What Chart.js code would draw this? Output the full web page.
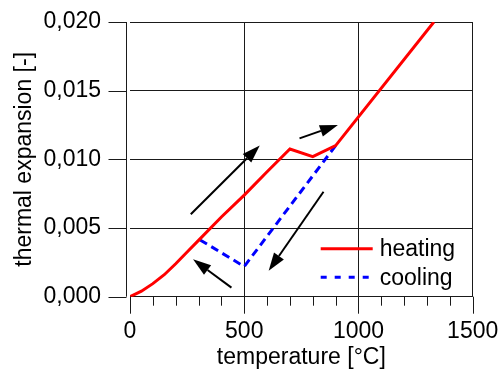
<!DOCTYPE html>
<html>
<head>
<meta charset="utf-8">
<script src="https://cdn.jsdelivr.net/npm/chart.js@4"></script>
<style>
  html, body { margin: 0; padding: 0; background: #fff; }
</style>
</head>
<body>
<canvas id="chart" width="499" height="377"></canvas>
<script>
// values
const heatingT = [0, 50, 100, 150, 200, 250, 300, 400, 500, 600, 700, 800, 900, 1330];
const heatingEps = [0, 0.0004, 0.00095, 0.0016, 0.0024, 0.00325, 0.0041, 0.0058, 0.0074, 0.0091, 0.01075, 0.0102, 0.011, 0.020];
const coolingT = [900, 500, 300];
const coolingEps = [0.011, 0.0022, 0.0042];
const xTicks = [0, 500, 1000, 1500];
const xMinorStep = 100;
const yTicks = [0, 0.005, 0.010, 0.015, 0.020];
// arrows in data units: [fromT, fromEps, toT, toEps]
const arrows = [
    [266, 0.0060, 568, 0.0110],
    [742, 0.01153, 910, 0.0125],
    [847, 0.00764, 607, 0.00189],
    [444, 0.00066, 276, 0.00272]
];

const font = "'Liberation Sans', Arial, sans-serif";
const ink = "#1a1a1a";
const clear = "rgba(0,0,0,0)";

const toPoints = (xs, ys) => xs.map((x, i) => ({x: x, y: ys[i]}));

const extras = {
    id: 'extras',
    afterDraw(chart) {
        const ctx = chart.ctx;
        const sx = chart.scales.x, sy = chart.scales.y;
        const a = chart.chartArea;
        ctx.save();

        // detached y axis line with outside ticks
        ctx.strokeStyle = ink;
        ctx.lineWidth = 1;
        const ax = Math.round(a.left) - 4 + 0.5;
        ctx.beginPath();
        ctx.moveTo(ax, a.top);
        ctx.lineTo(ax, a.bottom);
        yTicks.forEach(v => {
            const y = Math.round(sy.getPixelForValue(v)) + 0.5;
            ctx.moveTo(ax - 18, y);
            ctx.lineTo(ax, y);
        });
        // x ticks, major and minor, hanging below
        for (let t = 0; t <= 1500; t += xMinorStep) {
            const x = Math.round(sx.getPixelForValue(t)) + 0.5;
            const len = xTicks.includes(t) ? 17 : 9;
            ctx.moveTo(x, a.bottom);
            ctx.lineTo(x, a.bottom + len);
        }
        ctx.stroke();

        // arrows
        ctx.strokeStyle = "#000";
        ctx.fillStyle = "#000";
        ctx.lineWidth = 2;
        arrows.forEach(([t0, e0, t1, e1]) => {
            const x0 = sx.getPixelForValue(t0), y0 = sy.getPixelForValue(e0);
            const x1 = sx.getPixelForValue(t1), y1 = sy.getPixelForValue(e1);
            const ang = Math.atan2(y1 - y0, x1 - x0);
            const hl = 18, hw = 6;
            const bx = x1 - hl * Math.cos(ang), by = y1 - hl * Math.sin(ang);
            ctx.beginPath();
            ctx.moveTo(x0, y0);
            ctx.lineTo(bx, by);
            ctx.stroke();
            ctx.beginPath();
            ctx.moveTo(x1, y1);
            ctx.lineTo(bx + hw * Math.sin(ang), by - hw * Math.cos(ang));
            ctx.lineTo(bx - hw * Math.sin(ang), by + hw * Math.cos(ang));
            ctx.closePath();
            ctx.fill();
        });

        // legend inside the plot, lower right
        ctx.font = "23px " + font;
        ctx.textBaseline = "middle";
        ctx.textAlign = "left";
        const rows = [a.bottom - 48, a.bottom - 19.5];
        chart.data.datasets.forEach((ds, i) => {
            const y = rows[i];
            ctx.strokeStyle = ds.borderColor;
            ctx.lineWidth = 3;
            ctx.setLineDash(ds.borderDash ? [6, 8] : []);
            ctx.beginPath();
            ctx.moveTo(a.right - 152, y);
            ctx.lineTo(a.right - 100, y);
            ctx.stroke();
            ctx.setLineDash([]);
            ctx.fillStyle = "#000";
            ctx.fillText(ds.label, a.right - 93, y + 1);
        });
        ctx.restore();
    }
};

new Chart(document.getElementById("chart"), {
    type: 'scatter',
    data: {
        datasets: [{
            label: 'heating',
            data: toPoints(heatingT, heatingEps),
            showLine: true,
            borderColor: "#ff0000",
            borderWidth: 3,
            pointRadius: 0,
            tension: 0
        }, {
            label: 'cooling',
            data: toPoints(coolingT, coolingEps),
            showLine: true,
            borderColor: "#0000ff",
            borderWidth: 3,
            borderDash: [8, 5],
            pointRadius: 0,
            tension: 0
        }]
    },
    options: {
        responsive: false,
        animation: false,
        devicePixelRatio: 1,
        layout: {
            padding: {left: 0, top: 22, right: 26.3, bottom: 0}
        },
        plugins: {
            legend: {display: false},
            tooltip: {enabled: false}
        },
        scales: {
            x: {
                type: 'linear',
                min: 0,
                max: 1500,
                afterBuildTicks: s => { s.ticks = xTicks.map(v => ({value: v})); },
                afterFit: s => { s.height = 80.3; },
                border: {display: false},
                grid: {
                    color: c => c.tick && c.tick.value === 0 ? clear : ink,
                    lineWidth: 1,
                    drawTicks: true,
                    tickLength: 21,
                    tickColor: clear
                },
                ticks: {
                    color: "#000",
                    font: {family: font, size: 23},
                    padding: 0,
                    maxRotation: 0,
                    callback: v => String(v)
                },
                title: {
                    display: true,
                    text: 'temperature [°C]',
                    color: "#000",
                    font: {family: font, size: 23},
                    padding: {top: 0, bottom: 6}
                }
            },
            y: {
                type: 'linear',
                min: 0,
                max: 0.02,
                afterBuildTicks: s => { s.ticks = yTicks.map(v => ({value: v})); },
                afterFit: s => { s.width = 130; },
                border: {display: false},
                grid: {
                    color: ink,
                    lineWidth: 1,
                    drawTicks: true,
                    tickLength: 29,
                    tickColor: clear
                },
                ticks: {
                    color: "#000",
                    font: {family: font, size: 23},
                    padding: 0,
                    callback: v => v.toFixed(3).replace('.', ',')
                },
                title: {
                    display: true,
                    text: 'thermal expansion [-]',
                    color: "#000",
                    font: {family: font, size: 23},
                    padding: {top: 11, bottom: 0}
                }
            }
        }
    },
    plugins: [extras]
});
</script>
</body>
</html>
